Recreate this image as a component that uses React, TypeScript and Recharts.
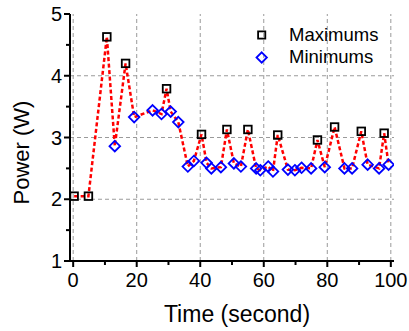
import React from 'react';
import { ComposedChart, Line, XAxis, YAxis, ReferenceLine, Legend } from 'recharts';

const maxTimes = [0.3, 4.8, 10.6, 16.5, 29.4, 40.4, 48.4, 55.0, 64.4, 76.9, 82.3, 90.7, 97.9];
const maxValues = [2.05, 2.05, 4.63, 4.2, 3.79, 3.05, 3.13, 3.13, 3.04, 2.96, 3.17, 3.1, 3.07];
const minTimes = [13.1, 19.2, 25.0, 27.8, 30.7, 33.1, 36.1, 38.0, 42.0, 43.5, 46.5, 50.6, 52.8, 57.6, 58.9, 61.4, 62.9, 67.6, 69.8, 71.9, 74.9, 79.2, 85.4, 87.8, 92.7, 96.3, 99.3];
const minValues = [2.86, 3.33, 3.44, 3.38, 3.42, 3.25, 2.53, 2.62, 2.59, 2.5, 2.52, 2.58, 2.53, 2.5, 2.47, 2.53, 2.45, 2.48, 2.47, 2.51, 2.5, 2.52, 2.5, 2.5, 2.56, 2.5, 2.56];

const xMajorTicks = [0, 20, 40, 60, 80, 100];
const xMinorTicks = [10, 30, 50, 70, 90];
const yMajorTicks = [1, 2, 3, 4, 5];
const yMinorTicks = [1.5, 2.5, 3.5, 4.5];
const xGrid = [0, 20, 40, 60, 80, 100];
const yGrid = [2, 3, 4];

const FONT = '"Liberation Sans", Arial, Helvetica, sans-serif';

type Row = { t: number; v: number; max: number | null; min: number | null };
const rows: Row[] = [
  ...maxTimes.map((t, i) => ({ t, v: maxValues[i], max: maxValues[i], min: null })),
  ...minTimes.map((t, i) => ({ t, v: minValues[i], max: null, min: minValues[i] })),
].sort((a, b) => a.t - b.t);

const xTicks = [...xMajorTicks, ...xMinorTicks].sort((a, b) => a - b);
const yTicks = [...yMajorTicks, ...yMinorTicks].sort((a, b) => a - b);

const BottomTick = (props: any) => {
  const { x, y, payload } = props;
  const major = xMajorTicks.includes(payload.value);
  return (
    <g>
      <line x1={x} x2={x} y1={y} y2={y + (major ? 6 : 4)} stroke="#000" strokeWidth={2} />
      {major && (
        <text x={x} y={y + 26} textAnchor="middle" fontSize={20} fontFamily={FONT} fill="#000">
          {payload.value}
        </text>
      )}
    </g>
  );
};

const LeftTick = (props: any) => {
  const { x, y, payload } = props;
  const major = yMajorTicks.includes(payload.value);
  return (
    <g>
      <line x1={x} x2={x - (major ? 6 : 4)} y1={y} y2={y} stroke="#000" strokeWidth={2} />
      {major && (
        <text x={x - 8} y={y + 7} textAnchor="end" fontSize={20} fontFamily={FONT} fill="#000">
          {payload.value}
        </text>
      )}
    </g>
  );
};

const TopTick = (props: any) => {
  const { x, y, payload } = props;
  const major = xMajorTicks.includes(payload.value);
  return <line x1={x} x2={x} y1={y} y2={y + (major ? 5 : 4)} stroke="#000" strokeWidth={2} />;
};

const RightTick = (props: any) => {
  const { x, y, payload } = props;
  const major = yMajorTicks.includes(payload.value);
  return <line x1={x} x2={x - (major ? 5 : 4)} y1={y} y2={y} stroke="#000" strokeWidth={2} />;
};

const SquareDot = (props: any) => {
  const { cx, cy, payload, index } = props;
  if (payload == null || payload.max == null || cy == null) return <g key={`s${index}`} />;
  return (
    <rect key={`s${index}`} x={cx - 3.8} y={cy - 3.8} width={7.6} height={7.6} fill="none" stroke="#000" strokeWidth={1.8} />
  );
};

const DiamondDot = (props: any) => {
  const { cx, cy, payload, index } = props;
  if (payload == null || payload.min == null || cy == null) return <g key={`d${index}`} />;
  const r = 5.3;
  return (
    <path
      key={`d${index}`}
      d={`M${cx},${cy - r}L${cx + r},${cy}L${cx},${cy + r}L${cx - r},${cy}Z`}
      fill="none"
      stroke="#0000ff"
      strokeWidth={1.8}
    />
  );
};

const renderLegend = (props: any) => {
  const items = (props.payload || []).filter((p: any) => p.value === 'Maximums' || p.value === 'Minimums');
  return (
    <svg width={140} height={50} style={{ display: 'block' }}>
      {items.map((p: any, i: number) => {
        const cy = 15 + i * 22.5;
        const cx = 11.7;
        return (
          <g key={p.value}>
            {p.value === 'Maximums' ? (
              <rect x={cx - 3.6} y={cy - 3.6} width={7.2} height={7.2} fill="none" stroke="#000" strokeWidth={1.8} />
            ) : (
              <path d={`M${cx},${cy - 5.2}L${cx + 5.2},${cy}L${cx},${cy + 5.2}L${cx - 5.2},${cy}Z`} fill="none" stroke="#0000ff" strokeWidth={1.8} />
            )}
            <text x={39} y={cy + 5.5} fontSize={18.5} fontFamily={FONT} fill="#000">
              {p.value}
            </text>
          </g>
        );
      })}
    </svg>
  );
};

export default function App() {
  return (
    <div style={{ position: 'absolute', left: 0, top: 0, width: 409, height: 331, background: '#fff' }}>
      <ComposedChart width={409} height={331} data={rows} margin={{ top: 14, right: 15, left: 0, bottom: 30 }}>
        {xGrid.map((g) => (
          <ReferenceLine key={`gx${g}`} x={g} stroke="#9a9a9a" strokeWidth={1} strokeDasharray="4 3" />
        ))}
        {yGrid.map((g) => (
          <ReferenceLine key={`gy${g}`} y={g} stroke="#9a9a9a" strokeWidth={1} strokeDasharray="4 3" />
        ))}
        <XAxis
          dataKey="t"
          type="number"
          domain={[-1, 101]}
          ticks={xTicks}
          interval={0}
          allowDataOverflow
          height={40}
          tickSize={0}
          tickMargin={0}
          tick={BottomTick}
          axisLine={{ stroke: '#000', strokeWidth: 2 }}
          tickLine={false}
          label={{
            content: (lp: any) => {
              const vb = lp.viewBox || { x: 70, y: 261, width: 324 };
              return (
                <text x={vb.x + vb.width / 2 + 5} y={vb.y + 61} textAnchor="middle" fontSize={23} fontFamily={FONT} fill="#000">
                  Time (second)
                </text>
              );
            },
          }}
        />
        <XAxis
          xAxisId="top"
          orientation="top"
          dataKey="t"
          type="number"
          domain={[-1, 101]}
          ticks={xTicks}
          interval={0}
          allowDataOverflow
          height={0}
          tickSize={0}
          tickMargin={0}
          tick={TopTick}
          axisLine={{ stroke: '#000', strokeWidth: 2 }}
          tickLine={false}
        />
        <YAxis
          type="number"
          domain={[1, 5]}
          ticks={yTicks}
          interval={0}
          allowDataOverflow
          width={70}
          tickSize={0}
          tickMargin={0}
          tick={LeftTick}
          axisLine={{ stroke: '#000', strokeWidth: 2 }}
          tickLine={false}
          label={{
            content: (lp: any) => {
              const vb = lp.viewBox || { x: 0, y: 14, width: 70, height: 247 };
              const cx = 29;
              const cy = vb.y + vb.height / 2 + 15;
              return (
                <text x={cx} y={cy} transform={`rotate(-90 ${cx} ${cy})`} textAnchor="middle" fontSize={22} fontFamily={FONT} fill="#000">
                  Power (W)
                </text>
              );
            },
          }}
        />
        <YAxis
          yAxisId="right"
          orientation="right"
          type="number"
          domain={[1, 5]}
          ticks={yTicks}
          interval={0}
          allowDataOverflow
          width={0}
          tickSize={0}
          tickMargin={0}
          tick={RightTick}
          axisLine={{ stroke: '#000', strokeWidth: 2 }}
          tickLine={false}
        />
        <Line
          dataKey="v"
          stroke="#ff0000"
          strokeWidth={2.5}
          strokeDasharray="4 2.5"
          dot={false}
          activeDot={false}
          legendType="none"
          isAnimationActive={false}
        />
        <Line
          dataKey="max"
          name="Maximums"
          stroke="none"
          dot={SquareDot}
          activeDot={false}
          legendType="square"
          isAnimationActive={false}
        />
        <Line
          dataKey="min"
          name="Minimums"
          stroke="none"
          dot={DiamondDot}
          activeDot={false}
          legendType="diamond"
          isAnimationActive={false}
        />
        <Legend
          layout="vertical"
          align="center"
          verticalAlign="middle"
          content={renderLegend}
          wrapperStyle={{ position: 'absolute', top: 20, left: 250, width: 140, height: 50 }}
        />
      </ComposedChart>
    </div>
  );
}
